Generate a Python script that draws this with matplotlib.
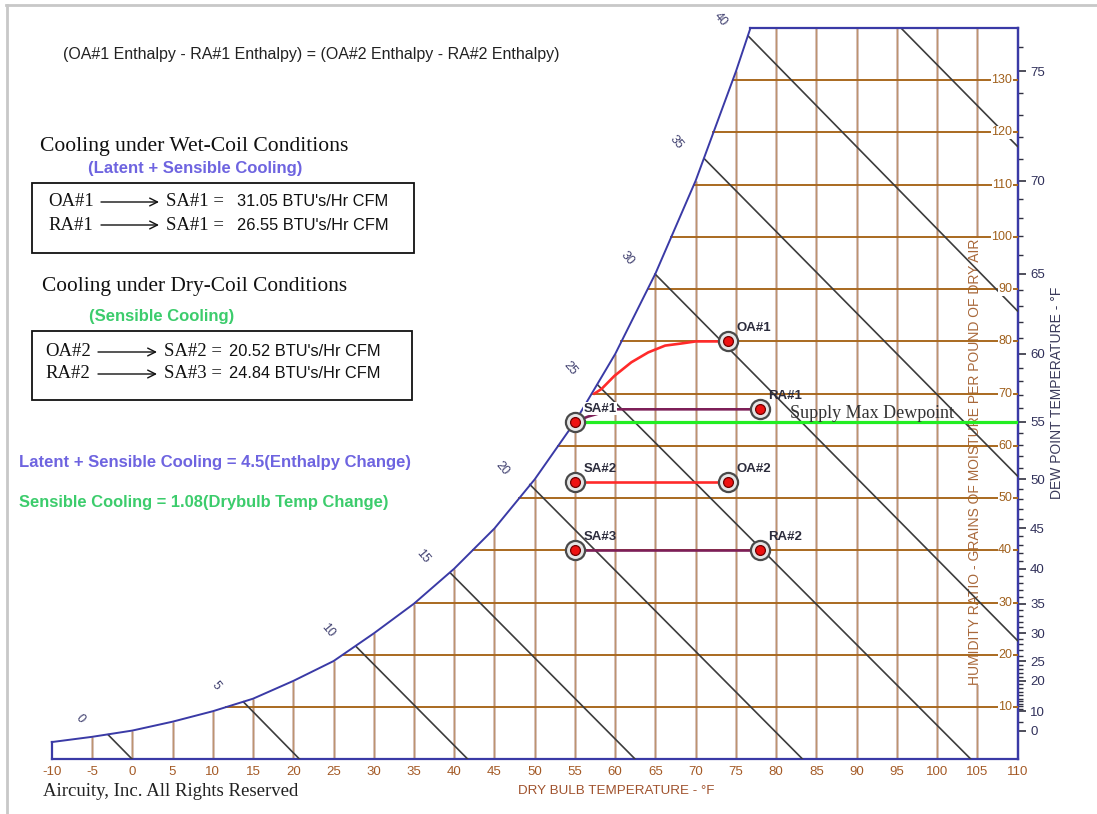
import numpy as np
import matplotlib
matplotlib.use("Agg")
import matplotlib.pyplot as plt
from matplotlib.patches import Rectangle

plt.rcParams['font.family'] = ['Liberation Sans', 'DejaVu Sans']
plt.rcParams['axes.unicode_minus'] = False
SERIF = 'Liberation Serif'

# saturation curve: dry bulb (F) vs grains of moisture per lb of dry air
sat_temp = [-10, -5, 0, 5, 10, 15, 20, 25, 30, 35, 40, 45, 50, 55, 60, 65, 70, 75, 76.8]
sat_grains = [3.3, 4.3, 5.5, 7.2, 9.2, 11.6, 15.0, 18.8, 24.1, 29.8, 36.5, 44.2,
              53.6, 64.6, 77.6, 93.0, 110.8, 131.7, 140.0]

db_ticks = list(range(-10, 115, 5))
grain_lines = list(range(10, 140, 10))

# constant enthalpy lines (Btu/lb), start on saturation, end on the chart edge
enth_vals = [0, 5, 10, 15, 20, 25, 30, 35, 40, 45]
enth_t0 = [-3.0, 13.8, 27.8, 39.5, 49.4, 57.8, 64.95, 71.05, 76.5, 95.5]
enth_g0 = [4.7, 11.0, 21.6, 35.7, 52.6, 71.7, 92.9, 115.0, 138.5, 140.0]
enth_t1 = [0.0, 20.8, 41.7, 62.5, 83.3, 104.2, 110, 110, 110, 110]
enth_g1 = [0, 0, 0, 0, 0, 0, 22.7, 54.2, 85.8, 117.3]
enth_labeled = [0, 5, 10, 15, 20, 25, 30, 35, 40]

# dew point scale
dew_labels = [0, 10, 20, 25, 30, 35, 40, 45, 50, 55, 60, 65, 70, 75]
dew_minor = [5] + list(range(10, 77))

# state points
pt_names = ['OA#1', 'RA#1', 'SA#1', 'SA#2', 'OA#2', 'SA#3', 'RA#2']
pt_temp = [74, 78, 55, 55, 74, 55, 78]
pt_grains = [80, 67, 64.6, 53, 53, 40, 40]

# process paths
oa1_t = [74, 70.0, 68.2, 66.2, 64.1, 62.0, 59.9, 58.3, 57.4]
oa1_g = [80, 80, 79.6, 79.2, 77.9, 76.0, 73.4, 70.9, 70.0]
ra1_t = [78, 59.8, 58.4, 56.6, 55]
ra1_g = [67, 67, 66.4, 65.6, 64.6]
dry1_t, dry1_g = [55, 74], [53, 53]
dry2_t, dry2_g = [55, 78], [40, 40]
supply_dew_g = 64.6

BLUE = '#3a3aa6'
BROWN = '#a9691f'

fig = plt.figure(figsize=(10.97, 8.14), dpi=100)
ax = fig.add_axes([0.0472, 0.0672, 0.8805, 0.8984])
ax.set_xlim(-10, 110)
ax.set_ylim(0, 140)

# dry bulb lines
for t in db_ticks[1:-1]:
    top = np.interp(t, sat_temp, sat_grains)
    ax.plot([t, t], [0, top], color='#ccafa4', lw=1.8, zorder=1, solid_capstyle='butt')
    ax.plot([t, t], [0, top], color='#b07a3c', lw=0.6, alpha=0.6, zorder=1)

# humidity ratio lines and labels
for g in grain_lines:
    t0 = np.interp(g, sat_grains, sat_temp)
    ax.plot([t0, 110], [g, g], color=BROWN, lw=1.4, zorder=3)
    ax.annotate(str(g), (110, g), xytext=(-4, 0), textcoords='offset points',
                ha='right', va='center', fontsize=9, color='#a0601c', zorder=4,
                bbox=dict(fc='white', ec='none', pad=0.3))

# enthalpy lines
for h, a, b, c, d in zip(enth_vals, enth_t0, enth_g0, enth_t1, enth_g1):
    ax.plot([a, c], [b, d], color='#3c3c3c', lw=1.2, zorder=3)
    if h in enth_labeled:
        ax.annotate(str(h), (a, b), xytext=(-20, 11.5), textcoords='offset points',
                    ha='center', va='center', rotation=-50, fontsize=9,
                    color='#3e3e6e', annotation_clip=False)

# saturation curve and chart boundary
ax.plot(sat_temp, sat_grains, color=BLUE, lw=1.4, zorder=5, clip_on=False)
ax.plot([sat_temp[-1], 110], [140, 140], color=BLUE, lw=1.6, zorder=5, clip_on=False)
ax.plot([-10, -10], [0, sat_grains[0]], color=BLUE, lw=1.6, zorder=5, clip_on=False)
for side in ['top', 'left']:
    ax.spines[side].set_visible(False)
for side in ['bottom', 'right']:
    ax.spines[side].set_color(BLUE)
    ax.spines[side].set_linewidth(1.6)

ax.set_xticks(db_ticks)
ax.tick_params(axis='x', length=0, pad=5, labelsize=9.5, labelcolor='#a45a26')
ax.set_yticks([])

ax.text(104.7, 57, 'HUMIDITY RATIO - GRAINS OF MOISTURE PER POUND OF DRY AIR',
        rotation=90, ha='center', va='center', fontsize=10, color='#a8683a', zorder=2,
        bbox=dict(fc='white', ec='none', pad=0.2))

# dew point axis on the right; the saturation table gives the mapping,
# extended below the curve so the scale stays invertible down to 0 grains
dew_map_g = [0.0] + sat_grains
dew_map_t = [-20.0] + sat_temp
dew = ax.secondary_yaxis('right', functions=(
    lambda g: np.interp(g, dew_map_g, dew_map_t),
    lambda d: np.interp(d, dew_map_t, dew_map_g)))
dew.set_yticks(dew_labels)
dew.set_yticks(dew_minor, minor=True)
dew.tick_params(which='major', length=6, width=1.2, color='#303040',
                labelsize=9.5, labelcolor='#30305a', pad=3)
dew.tick_params(which='minor', length=3.5, width=1, color='#303040')
dew.spines['right'].set_color(BLUE)
dew.spines['right'].set_linewidth(1.6)

# supply max dewpoint
ax.plot([55, 110], [supply_dew_g, supply_dew_g], color='#22ee22', lw=2.3, zorder=6)
ax.annotate('Supply Max Dewpoint', (81.7, supply_dew_g), xytext=(0, 6),
            textcoords='offset points', family=SERIF, fontsize=13, color='#333333',
            va='center', zorder=7)

# cooling processes
ax.plot(oa1_t, oa1_g, color='#ff2a2a', lw=1.9, zorder=6)
ax.plot(ra1_t, ra1_g, color='#7d1f58', lw=1.9, zorder=6)
ax.plot(dry1_t, dry1_g, color='#ff2a2a', lw=1.9, zorder=6)
ax.plot(dry2_t, dry2_g, color='#7d1f58', lw=1.9, zorder=6)

ax.scatter(pt_temp, pt_grains, s=190, facecolor='#e6e6e6', edgecolor='#4a4a4a',
           lw=1.6, zorder=8)
ax.scatter(pt_temp, pt_grains, s=50, facecolor='#ee1111', edgecolor='#700000',
           lw=0.9, zorder=9)
for name, t, g in zip(pt_names, pt_temp, pt_grains):
    bb = dict(fc='white', ec='none', pad=0.5) if name == 'SA#1' else None
    ax.annotate(name, (t, g), xytext=(6, 9.5), textcoords='offset points',
                fontsize=9.5, weight='bold', color='#2c2c3c', va='center',
                zorder=10, bbox=bb)

# page annotations
deco = fig.add_axes([0, 0, 1, 1], zorder=10)
deco.set_xlim(0, 1097)
deco.set_ylim(814, 0)
deco.axis('off')
deco.patch.set_alpha(0)

deco.plot([6, 1097], [5, 5], color='#c8c8c8', lw=2)
deco.plot([7, 7], [5, 814], color='#c8c8c8', lw=2)

deco.text(63, 55, '(OA#1 Enthalpy - RA#1 Enthalpy) = (OA#2 Enthalpy - RA#2 Enthalpy)',
          fontsize=11.5, va='center', color='#222222')

deco.text(40, 146, 'Cooling under Wet-Coil Conditions', family=SERIF, fontsize=15.6,
          va='center', color='#111111')
deco.text(88, 169, '(Latent + Sensible Cooling)', fontsize=12, weight='bold',
          color='#6e64e0', va='center')
deco.add_patch(Rectangle((32, 183), 382, 70, fill=False, ec='#111111', lw=1.3))

deco.text(42, 286, 'Cooling under Dry-Coil Conditions', family=SERIF, fontsize=15.4,
          va='center', color='#111111')
deco.text(89, 316, '(Sensible Cooling)', fontsize=12, weight='bold',
          color='#3ccc6c', va='center')
deco.add_patch(Rectangle((32, 331), 380, 69, fill=False, ec='#111111', lw=1.3))

box_rows = [
    (48, 202, 'OA#1', 'SA#1 =', '31.05 BTU\'s/Hr CFM', 101, 159, 166, 237),
    (48, 225, 'RA#1', 'SA#1 =', '26.55 BTU\'s/Hr CFM', 101, 159, 166, 237),
    (45, 352, 'OA#2', 'SA#2 =', '20.52 BTU\'s/Hr CFM', 98, 157, 164, 229),
    (45, 374, 'RA#2', 'SA#3 =', '24.84 BTU\'s/Hr CFM', 98, 157, 164, 229),
]
for x0, y, src, dst, val, a0, a1, xd, xv in box_rows:
    deco.text(x0, y, src, family=SERIF, fontsize=13.5, va='center', color='#111111')
    deco.annotate('', xy=(a1, y), xytext=(a0, y),
                  arrowprops=dict(arrowstyle='->', lw=1.0, color='#111111',
                                  shrinkA=0, shrinkB=0, mutation_scale=14))
    deco.text(xd, y, dst, family=SERIF, fontsize=13.5, va='center', color='#111111')
    deco.text(xv, y, val, fontsize=11.8, va='center', color='#111111')

deco.text(19, 463, 'Latent + Sensible Cooling = 4.5(Enthalpy Change)', fontsize=12,
          weight='bold', color='#6e64e0', va='center')
deco.text(19, 503, 'Sensible Cooling = 1.08(Drybulb Temp Change)', fontsize=11.9,
          weight='bold', color='#3ccc6c', va='center')

deco.text(43, 792, 'Aircuity, Inc. All Rights Reserved', family=SERIF, fontsize=13.5,
          va='center', color='#222222')
deco.text(616, 791, 'DRY BULB TEMPERATURE - \u00b0F', fontsize=9.6, ha='center',
          va='center', color='#a0522d')
deco.text(1057, 393, 'DEW POINT TEMPERATURE - \u00b0F', fontsize=10, rotation=90,
          ha='center', va='center', color='#3a3a5a')

fig.savefig('out.png', dpi=100)
